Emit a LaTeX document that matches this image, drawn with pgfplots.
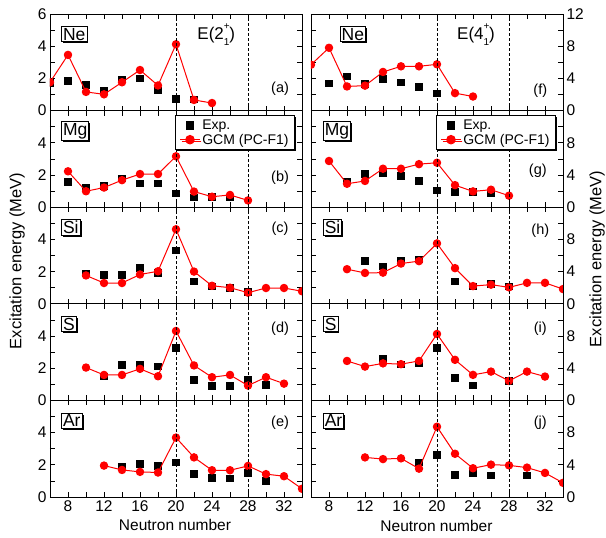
\documentclass[border=0pt]{standalone}
\usepackage{fontspec}
\setmainfont{Liberation Sans}
\usepackage{pgfplots}
\pgfplotsset{compat=1.18}
\usepgfplotslibrary{groupplots}
\usetikzlibrary{shadows}
\definecolor{gcmred}{RGB}{255,0,0}
\newcommand{\lev}[1]{E(#1\rlap{\raisebox{0.6em}{\fontsize{10}{10}\selectfont +}}\raisebox{-0.33em}{\fontsize{10}{10}\selectfont 1})}
\tikzset{
 elem/.style={draw=black, fill=white, line width=0.6pt, inner sep=1.4pt, anchor=west,
   font=\fontsize{17.5}{17.5}\selectfont,
   drop shadow={shadow xshift=1.6pt, shadow yshift=-1.6pt, fill=black, opacity=1}},
 plab/.style={font=\fontsize{14.5}{14.5}\selectfont},
 tlab/.style={font=\fontsize{17}{17}\selectfont},
 vdash/.style={black, dash pattern=on 3pt off 2pt, line width=0.6pt}
}
\pgfplotsset{
 panel/.style={xmin=6, xmax=34, xtick={8,12,...,32}, minor xtick={6,10,...,34},
   tick align=inside, major tick length=5pt, minor tick length=5pt,
   tick style={black, line width=0.6pt}, axis line style={line width=0.8pt},
   clip marker paths=true,
   /pgf/number format/assume math mode=true,
   every tick label/.append style={font=\fontsize{15.5}{15.5}\selectfont},
   legend style={at={(0.972,0.95)}, anchor=north east, draw=black, line width=0.6pt,
     font=\fontsize{14}{15}\selectfont, inner xsep=4pt, inner ysep=2pt, row sep=-1pt,
     drop shadow={shadow xshift=1.6pt, shadow yshift=-1.6pt, fill=black, opacity=1}},
   legend image post style={scale=1.15},
   legend cell align=left},
 L/.style={ymin=0, ymax=6, ytick={0,2,4,6}, minor ytick={1,3,5}, yticklabels={0,2,4,{}}},
 R/.style={ymin=0, ymax=12, ytick={0,4,8,12}, minor ytick={2,6,10}, yticklabels={0,4,8,{}},
   yticklabel pos=right, ytick pos=both},
 exp/.style={only marks, mark=square*, mark size=3.3pt, black, mark options={fill=black}},
 gcm/.style={gcmred, line width=1pt, mark=*, mark size=3.7pt, mark options={fill=gcmred, draw=gcmred}},
}
\begin{document}
\begin{tikzpicture}
\begin{groupplot}[group style={group size=2 by 5, horizontal sep=9pt, vertical sep=0pt,
   xticklabels at=edge bottom},
   width=252pt, height=96.6pt, scale only axis, panel]
% (a) Ne 2+
\nextgroupplot[L, yticklabels={0,2,4,6}]
\coordinate (TL) at (rel axis cs:0,1);
\addplot[exp] coordinates {(6,1.72) (8,1.87) (10,1.60) (12,1.26) (14,1.95) (16,2.00) (18,1.27) (20,0.74) (22,0.70)};
\addplot[gcm] coordinates {(6,1.76) (8,3.46) (10,1.16) (12,1.01) (14,1.76) (16,2.52) (18,1.56) (20,4.12) (22,0.66) (24,0.47)};
\draw[vdash] (axis cs:20,0) -- (axis cs:20,6);
\draw[vdash] (axis cs:28,0) -- (axis cs:28,6);
\node[elem] at (rel axis cs:0.045,0.79) {Ne};
\node[tlab] at (rel axis cs:0.66,0.79) {\lev{2}};
\node[plab] at (rel axis cs:0.913,0.23) {(a)};
% (f) Ne 4+
\nextgroupplot[R, yticklabels={0,4,8,12}]
\addplot[exp] coordinates {(8,3.42) (10,4.25) (12,3.33) (14,3.96) (16,3.54) (18,3.0) (20,2.17)};
\addplot[gcm] coordinates {(6,5.7) (8,7.8) (10,3.0) (12,3.1) (14,4.8) (16,5.5) (18,5.5) (20,5.75) (22,2.17) (24,1.75)};
\draw[vdash] (axis cs:20,0) -- (axis cs:20,12);
\draw[vdash] (axis cs:28,0) -- (axis cs:28,12);
\node[elem] at (rel axis cs:0.115,0.79) {Ne};
\node[tlab] at (rel axis cs:0.655,0.79) {\lev{4}};
\node[plab] at (rel axis cs:0.91,0.21) {(f)};
% (b) Mg 2+
\nextgroupplot[L]
\addplot[exp] coordinates {(8,1.58) (10,1.25) (12,1.34) (14,1.80) (16,1.48) (18,1.48) (20,0.86) (22,0.63) (24,0.66) (26,0.62)};
\addlegendentry{Exp.}
\addplot[gcm] coordinates {(8,2.23) (10,0.99) (12,1.22) (14,1.68) (16,2.06) (18,2.06) (20,3.16) (22,0.97) (24,0.65) (26,0.76) (28,0.42)};
\addlegendentry{GCM (PC-F1)}
\draw[vdash] (axis cs:20,0) -- (axis cs:20,6);
\draw[vdash] (axis cs:28,0) -- (axis cs:28,6);
\node[elem] at (rel axis cs:0.045,0.79) {Mg};
\node[plab] at (rel axis cs:0.913,0.3) {(b)};
% (g) Mg 4+
\nextgroupplot[R]
\addplot[exp] coordinates {(10,3.22) (12,4.13) (14,4.26) (16,3.9) (18,3.26) (20,2.13) (22,1.96) (24,1.9) (26,1.83)};
\addlegendentry{Exp.}
\addplot[gcm] coordinates {(8,5.74) (10,2.91) (12,3.26) (14,4.78) (16,4.78) (18,5.35) (20,5.52) (22,2.74) (24,1.96) (26,2.17) (28,1.43)};
\addlegendentry{GCM (PC-F1)}
\draw[vdash] (axis cs:20,0) -- (axis cs:20,12);
\draw[vdash] (axis cs:28,0) -- (axis cs:28,12);
\node[elem] at (rel axis cs:0.048,0.79) {Mg};
\node[plab] at (rel axis cs:0.9,0.38) {(g)};
% (c) Si 2+
\nextgroupplot[L]
\addplot[exp] coordinates {(10,1.91) (12,1.80) (14,1.79) (16,2.24) (18,1.94) (20,3.33) (22,1.41) (24,1.10) (26,0.99) (28,0.74)};
\addplot[gcm] coordinates {(10,1.76) (12,1.29) (14,1.29) (16,1.82) (18,2.02) (20,4.63) (22,2.0) (24,1.12) (26,1.0) (28,0.69) (30,0.98) (32,0.98) (34,0.78)};
\draw[vdash] (axis cs:20,0) -- (axis cs:20,6);
\draw[vdash] (axis cs:28,0) -- (axis cs:28,6);
\node[elem] at (rel axis cs:0.045,0.79) {Si};
\node[plab] at (rel axis cs:0.913,0.78) {(c)};
% (h) Si 4+
\nextgroupplot[R]
\addplot[exp] coordinates {(12,5.36) (14,4.68) (16,5.36) (18,5.53) (22,2.8) (24,2.2) (26,2.47) (28,2.17)};
\addplot[gcm] coordinates {(10,4.3) (12,3.83) (14,3.87) (16,5.0) (18,5.3) (20,7.5) (22,4.43) (24,2.2) (26,2.38) (28,2.04) (30,2.6) (32,2.6) (34,1.83)};
\draw[vdash] (axis cs:20,0) -- (axis cs:20,12);
\draw[vdash] (axis cs:28,0) -- (axis cs:28,12);
\node[elem] at (rel axis cs:0.048,0.79) {Si};
\node[plab] at (rel axis cs:0.91,0.76) {(h)};
% (d) S 2+
\nextgroupplot[L]
\addplot[exp] coordinates {(12,1.50) (14,2.20) (16,2.23) (18,2.12) (20,3.29) (22,1.28) (24,0.91) (26,0.91) (28,1.31) (30,0.96)};
\addplot[gcm] coordinates {(10,2.04) (12,1.58) (14,1.58) (16,1.96) (18,1.5) (20,4.31) (22,2.17) (24,1.44) (26,1.58) (28,0.92) (30,1.44) (32,1.04)};
\draw[vdash] (axis cs:20,0) -- (axis cs:20,6);
\draw[vdash] (axis cs:28,0) -- (axis cs:28,6);
\node[elem] at (rel axis cs:0.045,0.79) {S};
\node[plab] at (rel axis cs:0.913,0.74) {(d)};
% (i) S 4+
\nextgroupplot[R]
\addplot[exp] coordinates {(14,5.2) (16,4.5) (18,4.62) (20,6.54) (22,2.79) (24,1.87) (28,2.42)};
\addplot[gcm] coordinates {(10,4.9) (12,4.2) (14,4.6) (16,4.5) (18,4.9) (20,8.25) (22,5.04) (24,3.17) (26,3.58) (28,2.42) (30,3.58) (32,2.96)};
\draw[vdash] (axis cs:20,0) -- (axis cs:20,12);
\draw[vdash] (axis cs:28,0) -- (axis cs:28,12);
\node[elem] at (rel axis cs:0.048,0.79) {S};
\node[plab] at (rel axis cs:0.91,0.74) {(i)};
% (e) Ar 2+
\nextgroupplot[L]
\addplot[exp] coordinates {(14,1.87) (16,2.07) (18,1.95) (20,2.15) (22,1.44) (24,1.21) (26,1.17) (28,1.52) (30,1.03)};
\addplot[gcm] coordinates {(12,1.95) (14,1.68) (16,1.56) (18,1.52) (20,3.69) (22,2.46) (24,1.66) (26,1.66) (28,1.93) (30,1.42) (32,1.29) (34,0.51)};
\draw[vdash] (axis cs:20,0) -- (axis cs:20,6);
\draw[vdash] (axis cs:28,0) -- (axis cs:28,6);
\node[elem] at (rel axis cs:0.045,0.79) {Ar};
\node[plab] at (rel axis cs:0.913,0.77) {(e)};
% (j) Ar 4+
\nextgroupplot[R]
\addplot[exp] coordinates {(18,4.34) (20,5.25) (22,2.79) (24,2.99) (26,2.7) (30,2.7)};
\addplot[gcm] coordinates {(12,4.92) (14,4.71) (16,4.8) (18,3.52) (20,8.73) (22,5.37) (24,3.57) (26,4.02) (28,3.93) (30,3.65) (32,2.99) (34,1.76)};
\draw[vdash] (axis cs:20,0) -- (axis cs:20,12);
\draw[vdash] (axis cs:28,0) -- (axis cs:28,12);
\node[elem] at (rel axis cs:0.048,0.79) {Ar};
\node[plab] at (rel axis cs:0.91,0.77) {(j)};
\end{groupplot}
\node[rotate=90, font=\fontsize{16.5}{16.5}\selectfont] at ([xshift=-33pt,yshift=-247pt]TL) {Excitation energy (MeV)};
\node[rotate=90, font=\fontsize{16.5}{16.5}\selectfont] at ([xshift=547pt,yshift=-245pt]TL) {Excitation energy (MeV)};
\node[font=\fontsize{15.5}{15.5}\selectfont] at ([xshift=125pt,yshift=-511pt]TL) {Neutron number};
\node[font=\fontsize{15.5}{15.5}\selectfont] at ([xshift=386.5pt,yshift=-512pt]TL) {Neutron number};
\pgfresetboundingbox
\path[use as bounding box] ([xshift=-50pt,yshift=14pt]TL) rectangle ([xshift=556pt,yshift=-524pt]TL);
\end{tikzpicture}
\end{document}
